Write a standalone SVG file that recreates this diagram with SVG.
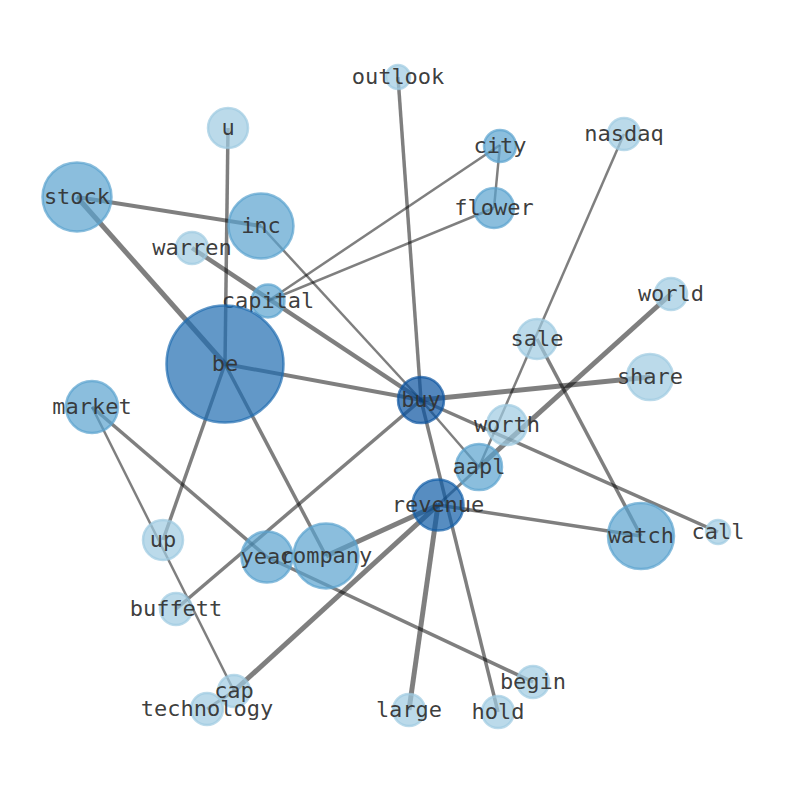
<svg xmlns="http://www.w3.org/2000/svg" width="794" height="790" viewBox="0 0 794 790">
<style>
.e{stroke:#000;stroke-opacity:0.5;fill:none;stroke-linecap:butt}
.n circle{fill-opacity:0.7;stroke-opacity:0.7;stroke-width:2.5}
.l circle{fill:#9ecae1;stroke:#9ecae1}
.m circle{fill:#5aa2cf;stroke:#5aa2cf}
.d circle{fill:#206cb0;stroke:#206cb0}
.b circle{fill:#0a529f;stroke:#0a529f}
.r circle{fill:#0f5ca6;stroke:#0f5ca6}
text{font-family:"DejaVu Sans Mono","Liberation Mono",monospace;font-size:22px;fill:#333;fill-opacity:0.95;text-anchor:middle;dominant-baseline:central}
</style>
<rect width="794" height="790" fill="#fff"/>
<g id="edges">
<line class="e" x1="398" y1="77" x2="421" y2="400" stroke-width="3.5"/>
<line class="e" x1="228" y1="128" x2="225" y2="364" stroke-width="3.5"/>
<line class="e" x1="77" y1="197" x2="261" y2="226" stroke-width="4"/>
<line class="e" x1="77" y1="197" x2="225" y2="364" stroke-width="5"/>
<line class="e" x1="261" y1="226" x2="421" y2="400" stroke-width="2.5"/>
<line class="e" x1="192" y1="248" x2="421" y2="400" stroke-width="4.5"/>
<line class="e" x1="268" y1="301" x2="500" y2="145" stroke-width="2.5"/>
<line class="e" x1="268" y1="301" x2="494" y2="208" stroke-width="2.5"/>
<line class="e" x1="500" y1="145" x2="494" y2="208" stroke-width="2.5"/>
<line class="e" x1="225" y1="364" x2="421" y2="400" stroke-width="4"/>
<line class="e" x1="225" y1="364" x2="163" y2="540" stroke-width="3.5"/>
<line class="e" x1="225" y1="364" x2="326" y2="556" stroke-width="3.5"/>
<line class="e" x1="624" y1="134" x2="479" y2="467" stroke-width="2.5"/>
<line class="e" x1="537" y1="339" x2="641" y2="536" stroke-width="3.5"/>
<line class="e" x1="671" y1="294" x2="479" y2="467" stroke-width="5"/>
<line class="e" x1="479" y1="467" x2="438" y2="505" stroke-width="3"/>
<line class="e" x1="438" y1="505" x2="234" y2="691" stroke-width="5"/>
<line class="e" x1="234" y1="691" x2="207" y2="709" stroke-width="3"/>
<line class="e" x1="421" y1="400" x2="650" y2="377" stroke-width="5"/>
<line class="e" x1="421" y1="400" x2="718" y2="532" stroke-width="3.5"/>
<line class="e" x1="421" y1="400" x2="479" y2="467" stroke-width="2.5"/>
<line class="e" x1="421" y1="400" x2="498" y2="712" stroke-width="3.5"/>
<line class="e" x1="421" y1="400" x2="176" y2="609" stroke-width="3.5"/>
<line class="e" x1="438" y1="505" x2="326" y2="556" stroke-width="5"/>
<line class="e" x1="438" y1="505" x2="641" y2="536" stroke-width="3.5"/>
<line class="e" x1="438" y1="505" x2="409" y2="710" stroke-width="5"/>
<line class="e" x1="92" y1="407" x2="267" y2="557" stroke-width="3.5"/>
<line class="e" x1="267" y1="557" x2="533" y2="682" stroke-width="3.5"/>
<line class="e" x1="92" y1="407" x2="234" y2="691" stroke-width="2.5"/>
</g>
<g id="outlook" class="n l"><circle cx="398" cy="77" r="12"/><text x="398" y="76">outlook</text></g>
<g id="u" class="n l"><circle cx="228" cy="128" r="20"/><text x="228" y="127">u</text></g>
<g id="city" class="n m"><circle cx="500" cy="146" r="16"/><text x="500" y="145">city</text></g>
<g id="nasdaq" class="n l"><circle cx="624" cy="134" r="16"/><text x="624" y="133">nasdaq</text></g>
<g id="stock" class="n m"><circle cx="77" cy="197" r="34.5"/><text x="77" y="196">stock</text></g>
<g id="inc" class="n m"><circle cx="261" cy="226" r="32.5"/><text x="261" y="225">inc</text></g>
<g id="flower" class="n m"><circle cx="494" cy="208" r="20"/><text x="494" y="207">flower</text></g>
<g id="warren" class="n l"><circle cx="192" cy="248" r="16"/><text x="192" y="247">warren</text></g>
<g id="capital" class="n m"><circle cx="268" cy="301" r="16.5"/><text x="268" y="300">capital</text></g>
<g id="world" class="n l"><circle cx="671" cy="294" r="16"/><text x="671" y="293">world</text></g>
<g id="sale" class="n l"><circle cx="537" cy="339" r="20"/><text x="537" y="338">sale</text></g>
<g id="be" class="n d"><circle cx="225" cy="364" r="58.5"/><text x="225" y="363">be</text></g>
<g id="share" class="n l"><circle cx="650" cy="377" r="23"/><text x="650" y="376">share</text></g>
<g id="buy" class="n b"><circle cx="421" cy="400" r="23"/><text x="421" y="399">buy</text></g>
<g id="market" class="n m"><circle cx="92" cy="407" r="26"/><text x="92" y="406">market</text></g>
<g id="worth" class="n l"><circle cx="507" cy="425" r="20"/><text x="507" y="424">worth</text></g>
<g id="aapl" class="n m"><circle cx="479" cy="467" r="23"/><text x="479" y="466">aapl</text></g>
<g id="revenue" class="n r"><circle cx="438" cy="505" r="25.5"/><text x="438" y="504">revenue</text></g>
<g id="watch" class="n m"><circle cx="641" cy="536" r="33"/><text x="641" y="535">watch</text></g>
<g id="call" class="n l"><circle cx="718" cy="532" r="12"/><text x="718" y="531">call</text></g>
<g id="up" class="n l"><circle cx="163" cy="540" r="20"/><text x="163" y="539">up</text></g>
<g id="year" class="n m"><circle cx="267" cy="557" r="25.5"/><text x="267" y="556">year</text></g>
<g id="company" class="n m"><circle cx="326" cy="556" r="32.5"/><text x="326" y="555">company</text></g>
<g id="buffett" class="n l"><circle cx="176" cy="609" r="16"/><text x="176" y="608">buffett</text></g>
<g id="begin" class="n l"><circle cx="533" cy="682" r="16"/><text x="533" y="681">begin</text></g>
<g id="cap" class="n l"><circle cx="234" cy="691" r="16"/><text x="234" y="690">cap</text></g>
<g id="technology" class="n l"><circle cx="207" cy="709" r="16"/><text x="207" y="708">technology</text></g>
<g id="large" class="n l"><circle cx="409" cy="710" r="16"/><text x="409" y="709">large</text></g>
<g id="hold" class="n l"><circle cx="498" cy="712" r="16"/><text x="498" y="711">hold</text></g>
</svg>
